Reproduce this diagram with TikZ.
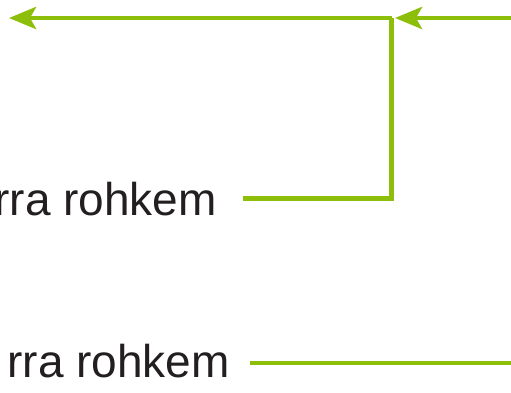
\documentclass[tikz,border=0pt]{standalone}
\usepackage{fontspec}
\setmainfont{Liberation Sans}
\usetikzlibrary{arrows.meta}
\definecolor{lime}{RGB}{141,190,10}
\definecolor{ink}{RGB}{35,31,32}
\begin{document}
\begin{tikzpicture}[x=1pt,y=1pt,
  label text/.style={inner sep=0pt, anchor=base east, text=ink, font=\fontsize{46}{54}\selectfont},
  link/.style={draw=lime, line width=4.6pt},
  tip/.style={-{Stealth[length=27pt,width=22pt,inset=6pt]}}]
\useasboundingbox (0,0) rectangle (511,-392);
\node[label text] (t1) at (217,-215) {rra rohkem};
\node[label text] (t2) at (230,-377) {rra rohkem};
\coordinate (s1) at (243,-198.5);
\coordinate (s2) at (250,-363);
\coordinate (j) at (391.5,-18);
\coordinate (lt) at (9,-18);
\coordinate (rt) at (515,-18);
\coordinate (re) at (515,-363);
\coordinate (jt) at (395,-18);
\draw[link] (s1) -| (j);
\draw[link,tip] (j) -- (lt);
\draw[link,tip] (rt) -- (jt);
\draw[link] (s2) -- (re);
\end{tikzpicture}
\end{document}
